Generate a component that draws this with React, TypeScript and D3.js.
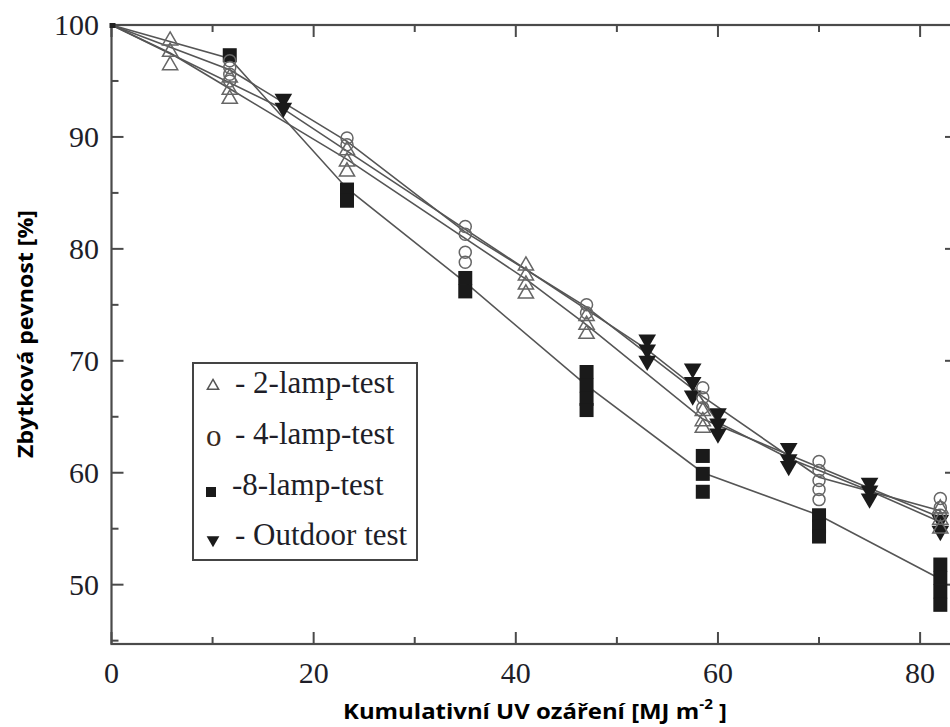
import React, { useEffect, useRef } from 'react';
import * as d3 from 'd3';

// replicate values (x = cumulative UV, y = residual strength)
const lamp2X = [5.8, 11.7, 23.3, 41, 47, 58.5, 82];
const lamp2Y = [
  [98.6, 97.6, 96.4],
  [95.3, 94.2, 93.4],
  [88.8, 87.8, 86.9],
  [78.5, 77.6, 76.8, 76.0],
  [74.0, 73.2, 72.4],
  [65.5, 64.6, 64.0],
  [56.8, 55.8, 55.0],
];
const lamp2Line = [100, 97.5, 94.3, 88, 77.3, 73.2, 64.8, 56];

const lamp4X = [11.7, 23.3, 35, 47, 58.5, 70, 82];
const lamp4Y = [
  [96.8, 96.2, 95.6, 95.0],
  [89.9, 89.3],
  [82.0, 81.3, 79.7, 78.8],
  [75.0, 74.3],
  [67.6, 66.7, 65.8],
  [61.0, 60.2, 59.3, 58.5, 57.6],
  [57.7, 56.9, 56.2],
];
const lamp4Line = [100, 96, 89.6, 81.5, 74.8, 66.8, 59.6, 56.6];

const lamp8X = [11.7, 23.3, 35, 47, 58.5, 70, 82];
const lamp8Y = [
  [97.3],
  [85.3, 84.3],
  [77.4, 76.2],
  [69.0, 67.8, 66.6, 65.6],
  [61.5, 59.9, 58.3],
  [56.2, 55.2, 54.3],
  [51.8, 50.6, 49.4, 48.2],
];
const lamp8Line = [100, 97, 85.4, 77, 67.8, 60, 56.2, 50.5];

const outdoorX = [17, 53, 57.5, 60, 67, 75, 82];
const outdoorY = [
  [93.4, 92.6],
  [71.9, 71.0, 70.0],
  [69.3, 68.1, 66.9],
  [65.3, 64.4, 63.5],
  [62.2, 61.2, 60.6],
  [59.1, 58.4, 57.7],
  [55.8, 54.8],
];
const outdoorLine = [100, 92.5, 71, 67.8, 64.5, 61.3, 58.4, 55.6];

const xTicks = [0, 20, 40, 60, 80];
const yTicks = [50, 60, 70, 80, 90, 100];
const legendLabels = ['- 2-lamp-test', '- 4-lamp-test', '-8-lamp-test', '- Outdoor test'];

const App = () => {
  const ref = useRef<SVGSVGElement>(null);

  useEffect(() => {
    drawChart();
  }, []);

  function drawChart() {
    var svg = d3.select(ref.current);
    svg.selectAll('*').remove();

    var left = 111.5, right = 957, top = 25, bottom = 644;

    var x = d3.scaleLinear().domain([0, 83.65]).range([left, right]);
    var y = d3.scaleLinear().domain([44.7, 100]).range([bottom, top]);

    var serif = "'Liberation Serif', 'Times New Roman', serif";
    var sans = "'Liberation Sans Narrow', 'Open Sans', 'Liberation Sans', sans-serif";
    var axisColor = '#4a4a4a';
    var lineColor = '#555';

    // frame
    svg.append('rect')
      .attr('x', left).attr('y', top)
      .attr('width', right - left).attr('height', bottom - top)
      .attr('fill', 'none').attr('stroke', axisColor).attr('stroke-width', 2.2);

    // ticks, pointing inward on all four sides
    d3.range(0, 84, 10).forEach(function (v) {
      var len = v % 20 === 0 ? 12 : 7;
      svg.append('line').attr('x1', x(v)).attr('x2', x(v)).attr('y1', bottom).attr('y2', bottom - len)
        .attr('stroke', axisColor).attr('stroke-width', 2);
      svg.append('line').attr('x1', x(v)).attr('x2', x(v)).attr('y1', top).attr('y2', top + len)
        .attr('stroke', axisColor).attr('stroke-width', 2);
    });
    d3.range(45, 101, 5).forEach(function (v) {
      var len = v % 10 === 0 ? 12 : 7;
      svg.append('line').attr('x1', left).attr('x2', left + len).attr('y1', y(v)).attr('y2', y(v))
        .attr('stroke', axisColor).attr('stroke-width', 2);
      svg.append('line').attr('x1', right).attr('x2', right - len).attr('y1', y(v)).attr('y2', y(v))
        .attr('stroke', axisColor).attr('stroke-width', 2);
    });

    // tick labels
    svg.selectAll('.xl').data(xTicks).enter().append('text')
      .attr('x', function (d) { return x(d); })
      .attr('y', 683)
      .attr('text-anchor', 'middle')
      .attr('font-family', serif).attr('font-size', 30).attr('fill', '#1e1e28')
      .text(function (d) { return d; });
    svg.selectAll('.yl').data(yTicks).enter().append('text')
      .attr('x', 99)
      .attr('y', function (d) { return y(d) + 10; })
      .attr('text-anchor', 'end')
      .attr('font-family', serif).attr('font-size', 30).attr('fill', '#1e1e28')
      .text(function (d) { return d; });

    // axis titles
    var xt = svg.append('text')
      .attr('x', 343).attr('y', 719)
      .attr('textLength', 384).attr('lengthAdjust', 'spacingAndGlyphs')
      .attr('font-family', sans).attr('font-weight', 'bold').attr('font-size', 22).attr('fill', '#000');
    xt.append('tspan').text('Kumulativní UV ozáření [MJ m');
    xt.append('tspan').attr('dy', -10).attr('font-size', 14).text('-2');
    xt.append('tspan').attr('dy', 10).text(' ]');

    svg.append('text')
      .attr('transform', 'translate(33,458) rotate(-90)')
      .attr('textLength', 248).attr('lengthAdjust', 'spacingAndGlyphs')
      .attr('font-family', sans).attr('font-weight', 'bold').attr('font-size', 22).attr('fill', '#000')
      .text('Zbytková pevnost [%]');

    // connecting lines
    var line = d3.line<[number, number]>()
      .x(function (d) { return x(d[0]); })
      .y(function (d) { return y(d[1]); });
    var series = [
      { xs: [0].concat(lamp2X), ys: lamp2Line },
      { xs: [0].concat(lamp4X), ys: lamp4Line },
      { xs: [0].concat(lamp8X), ys: lamp8Line },
      { xs: [0].concat(outdoorX), ys: outdoorLine },
    ];
    series.forEach(function (s) {
      var pts = s.xs.map(function (v, i) { return [v, s.ys[i]] as [number, number]; });
      svg.append('path').datum(pts)
        .attr('d', line)
        .attr('fill', 'none').attr('stroke', lineColor).attr('stroke-width', 1.6);
    });

    function flatten(xs: number[], yss: number[][]) {
      var out: [number, number][] = [];
      xs.forEach(function (v, i) { yss[i].forEach(function (w) { out.push([v, w]); }); });
      return out;
    }

    var triUp = d3.symbol().type(d3.symbolTriangle).size(100);
    var triDown = d3.symbol().type(d3.symbolTriangle).size(135);

    // 8-lamp squares (filled)
    svg.selectAll('.sq').data(flatten(lamp8X, lamp8Y)).enter().append('rect')
      .attr('x', function (d) { return x(d[0]) - 7; })
      .attr('y', function (d) { return y(d[1]) - 7; })
      .attr('width', 14).attr('height', 14)
      .attr('fill', '#1a1a1a');

    // outdoor (filled down triangles)
    svg.selectAll('.od').data(flatten(outdoorX, outdoorY)).enter().append('path')
      .attr('d', triDown)
      .attr('transform', function (d) { return 'translate(' + x(d[0]) + ',' + y(d[1]) + ') rotate(180)'; })
      .attr('fill', '#1a1a1a');

    // 4-lamp open circles
    svg.selectAll('.ci').data(flatten(lamp4X, lamp4Y)).enter().append('circle')
      .attr('cx', function (d) { return x(d[0]); })
      .attr('cy', function (d) { return y(d[1]); })
      .attr('r', 6)
      .attr('fill', 'none').attr('stroke', '#666').attr('stroke-width', 1.5);

    // 2-lamp open triangles
    svg.selectAll('.tr').data(flatten(lamp2X, lamp2Y)).enter().append('path')
      .attr('d', triUp)
      .attr('transform', function (d) { return 'translate(' + x(d[0]) + ',' + y(d[1]) + ')'; })
      .attr('fill', 'none').attr('stroke', '#666').attr('stroke-width', 1.5);

    // origin point
    svg.append('rect').attr('x', x(0) - 2).attr('y', y(100) - 2).attr('width', 6).attr('height', 5).attr('fill', '#222');

    // legend
    var lg = svg.append('g');
    lg.append('rect').attr('x', 193).attr('y', 363).attr('width', 224).attr('height', 197)
      .attr('fill', '#fff').attr('stroke', '#444').attr('stroke-width', 2);
    var baselines = [393, 444, 495, 545];
    lg.selectAll('.lt').data(legendLabels).enter().append('text')
      .attr('x', function (d, i) { return i === 2 ? 232 : 235; })
      .attr('y', function (d, i) { return baselines[i]; })
      .attr('font-family', serif).attr('font-size', 31).attr('fill', '#1e1e28')
      .text(function (d) { return d; });
    lg.append('path').attr('d', d3.symbol().type(d3.symbolTriangle).size(55))
      .attr('transform', 'translate(213,386)')
      .attr('fill', 'none').attr('stroke', '#555').attr('stroke-width', 1.5);
    lg.append('text').attr('x', 206).attr('y', 446)
      .attr('font-family', serif).attr('font-size', 31).attr('fill', '#3a2a20').text('o');
    lg.append('rect').attr('x', 206).attr('y', 487).attr('width', 10).attr('height', 10).attr('fill', '#1a1a1a');
    lg.append('path').attr('d', d3.symbol().type(d3.symbolTriangle).size(70))
      .attr('transform', 'translate(213,540) rotate(180)')
      .attr('fill', '#1a1a1a');
  }

  return (
    <svg ref={ref} width={950} height={727}
      style={{ position: 'absolute', left: 0, top: 0, background: '#fff' }} />
  );
};

export default App;
